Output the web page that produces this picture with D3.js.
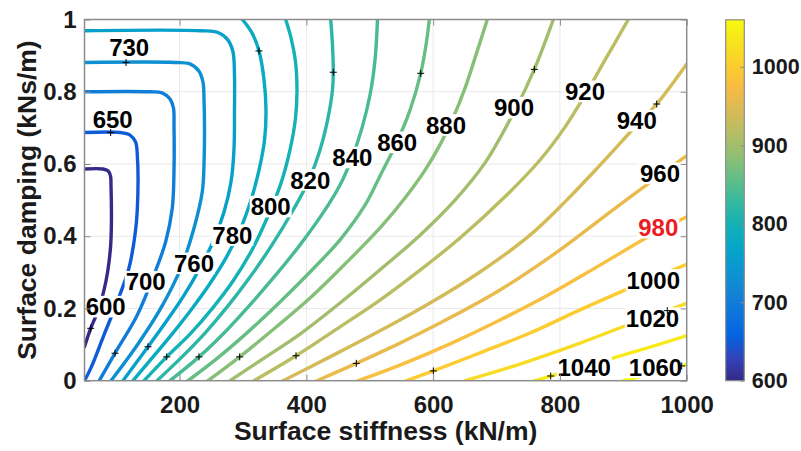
<!DOCTYPE html>
<html>

<head>
    <meta charset="utf-8">
    <script src="https://d3js.org/d3.v7.min.js"></script>
    <style>
        body { margin: 0; background: white; }
    </style>
</head>

<body>
    <script>
        const width = 801
        const height = 451
        const plotLeft = 84.5, plotRight = 686.7, plotTop = 19.5, plotBottom = 380.7
        const barLeft = 725.7, barRight = 744.3, barTop = 19.8, barBottom = 380.7

        const fontFamily = "'Liberation Sans', Arial, sans-serif"
        const axisColor = "#8c8c8c"
        const textColor = "#1a1a1a"

        // contour levels (kN/m vs kNs/m map)
        const levels = [600, 650, 700, 730, 760, 780, 800, 820, 840, 860, 880, 900, 920, 940, 960, 980, 1000, 1020, 1040, 1060]

        // one polyline per level, [stiffness, damping]
        const contourLines = [
            [[50, 0.586], [79, 0.586], [87, 0.581], [91, 0.567], [91.8, 0.542], [91.8, 0.39], [88.7, 0.329], [83.9, 0.276], [72.9, 0.201], [59.8, 0.145], [50, 0.094]],
            [[50, 0.687], [106, 0.687], [121.8, 0.68], [130.5, 0.661], [133.3, 0.625], [133.3, 0.473], [129.6, 0.403], [120.2, 0.312], [101.7, 0.219], [80.8, 0.127], [59.8, 0.034], [50, 0]],
            [[50, 0.8], [153.3, 0.8], [172.3, 0.797], [184.9, 0.78], [190.4, 0.755], [191.2, 0.708], [191.2, 0.583], [188.5, 0.478], [178.1, 0.385], [159.6, 0.293], [133.3, 0.182], [98.1, 0.076], [73.3, 0]],
            [[50, 0.881], [192.8, 0.881], [216.4, 0.877], [230.6, 0.857], [236.9, 0.827], [238.5, 0.783], [238.5, 0.597], [235.8, 0.523], [222.7, 0.422], [201.8, 0.311], [170.2, 0.2], [133.3, 0.099], [91.8, 0]],
            [[50, 0.969], [232.2, 0.969], [260.6, 0.964], [276.4, 0.943], [284.3, 0.91], [286.6, 0.846], [286.6, 0.749], [285.8, 0.639], [281.1, 0.55], [270.1, 0.467], [252.7, 0.384], [230.6, 0.307], [205.4, 0.232], [178.6, 0.163], [150.2, 0.094], [110.7, 0]],
            [[126.5, 0], [158.1, 0.066], [188, 0.129], [218, 0.196], [246.4, 0.265], [273.2, 0.34], [295.3, 0.417], [312.7, 0.5], [325.3, 0.583], [334, 0.666], [336.3, 0.749], [333.2, 0.833], [325.3, 0.913], [314.2, 0.963], [299, 1]],
            [[143.9, 0], [179.7, 0.066], [216.4, 0.129], [251.1, 0.199], [284.3, 0.276], [314.2, 0.362], [339.5, 0.456], [360, 0.547], [374.2, 0.639], [382.9, 0.727], [385.2, 0.805], [382.9, 0.882], [375.8, 0.949], [367.4, 1]],
            [[164.4, 0], [203.8, 0.066], [240.1, 0.132], [276.4, 0.207], [311.1, 0.287], [345.8, 0.376], [377.4, 0.467], [402.6, 0.55], [421.5, 0.639], [434.1, 0.727], [441.2, 0.805], [442.5, 0.854], [441.2, 0.929], [438.4, 1]],
            [[184.9, 0], [230.6, 0.066], [271.7, 0.135], [311.1, 0.21], [350.5, 0.29], [390, 0.376], [429.4, 0.473], [453.1, 0.542], [472, 0.617], [487.8, 0.7], [500.4, 0.791], [508.3, 0.888], [512.2, 1]],
            [[213.3, 0], [262.2, 0.066], [311.1, 0.14], [358.4, 0.218], [405.8, 0.301], [453.1, 0.39], [492.5, 0.486], [516.2, 0.567], [543, 0.661], [563.5, 0.749], [580.4, 0.851], [588.7, 0.929], [594, 1]],
            [[244.8, 0], [294.8, 0.066], [350.5, 0.146], [405.8, 0.229], [460.9, 0.323], [516.2, 0.423], [555.6, 0.506], [587.2, 0.583], [610.8, 0.653], [631.3, 0.727], [650.3, 0.81], [667.6, 0.902], [685.5, 1]],
            [[279.5, 0], [336.3, 0.066], [390, 0.129], [453.1, 0.215], [516.2, 0.307], [579.3, 0.403], [634.5, 0.5], [681.8, 0.603], [727.6, 0.744], [759.6, 0.862], [789.6, 1]],
            [[317.4, 0], [383.7, 0.069], [453.1, 0.149], [516.2, 0.223], [579.3, 0.306], [642.4, 0.395], [716.1, 0.514], [768.6, 0.611], [808, 0.702], [839.6, 0.791], [871.2, 0.888], [907.9, 1]],
            [[363.1, 0], [437.3, 0.066], [516.2, 0.138], [595.1, 0.215], [673.9, 0.301], [752.8, 0.403], [810.7, 0.5], [863.3, 0.597], [921.2, 0.708], [952.7, 0.766], [1000, 0.877]],
            [[416.8, 0], [478.8, 0.048], [547.7, 0.104], [626.6, 0.174], [705.5, 0.251], [800.1, 0.362], [879, 0.467], [957.9, 0.569], [1000, 0.623]],
            [[481.9, 0], [547.7, 0.043], [626.6, 0.102], [705.5, 0.168], [784.4, 0.24], [863.3, 0.32], [942.1, 0.401], [1000, 0.454]],
            [[558.3, 0], [600.3, 0.027], [673.9, 0.077], [752.8, 0.132], [831.7, 0.196], [910.6, 0.257], [1000, 0.322]],
            [[650.3, 0], [737, 0.046], [831.7, 0.104], [910.6, 0.157], [969.4, 0.194], [1000, 0.214]],
            [[760.7, 0], [785.5, 0.013], [863.3, 0.052], [942.1, 0.093], [1000, 0.125]],
            [[899.5, 0], [950, 0.021], [1000, 0.045]]
        ]

        // "+" markers left by clabel, one per level (none visible on 980)
        const markerPoints = [
            [59.8, 0.145], [91.3, 0.687], [98.1, 0.076], [115.5, 0.881], [150.2, 0.094], [325.3, 0.913], [179.7, 0.066],
            [442.5, 0.854], [230.6, 0.066], [580.4, 0.851], [294.8, 0.066], [759.6, 0.862], [383.7, 0.069], [952.7, 0.766],
            [478.8, 0.048], null, [600.3, 0.027], [969.4, 0.194], [785.5, 0.013], [992.1, 0.041]
        ]

        // label centres, one per level
        const labelPoints = [
            [83.4, 0.205], [94.5, 0.724], [146.5, 0.274], [120.5, 0.922], [222.7, 0.325], [283.2, 0.403], [343.7, 0.482],
            [406.2, 0.556], [472.5, 0.618], [543.3, 0.66], [620.3, 0.708], [727.6, 0.756], [839.6, 0.801], [921.2, 0.72],
            [957.9, 0.574], [955.2, 0.424], [947.3, 0.279], [946.1, 0.173], [838.3, 0.037], [950.8, 0.037]
        ]
        const highlightLevel = 980

        const xTicks = [200, 400, 600, 800, 1000]
        const yTicks = [0, 0.2, 0.4, 0.6, 0.8, 1]
        const colorTicks = [600, 700, 800, 900, 1000]

        // parula colormap (every 4th entry of the 64-colour table)
        const parula = ["#352a87", "#3243ba", "#0363e1", "#0d75dc", "#1485d4", "#0998d1", "#06a7c6", "#15b1b4",
            "#38b99e", "#65be86", "#92bf73", "#b7bd64", "#d9ba56", "#f8bb44", "#fcce2e", "#f5e41d", "#f9fb0e"]
        const colorMin = 600, colorMax = 1060

        const x = d3.scaleLinear().domain([50, 1000]).range([plotLeft, plotRight])
        const y = d3.scaleLinear().domain([0, 1]).range([plotBottom, plotTop])
        const cbar = d3.scaleLinear().domain([colorMin, colorMax]).range([barBottom, barTop])
        const color = d3.scaleLinear()
            .domain(parula.map((d, i) => colorMin + (colorMax - colorMin) * i / (parula.length - 1)))
            .range(parula)

        function styleAxis(g, size) {
            g.select(".domain").remove()
            g.selectAll(".tick line").attr("stroke", axisColor).attr("stroke-width", 1)
            g.selectAll(".tick text")
                .style("font-family", fontFamily)
                .style("font-weight", "bold")
                .style("font-size", size + "px")
                .style("fill", textColor)
        }

        function drawGrid(svg) {
            const grid = svg.append("g")
            grid.selectAll(".gx").data(xTicks.slice(0, -1)).enter().append("line")
                .attr("x1", d => x(d)).attr("x2", d => x(d))
                .attr("y1", plotTop).attr("y2", plotBottom)
                .attr("stroke", "#e8e8e8").attr("stroke-width", 1)
            grid.selectAll(".gy").data(yTicks.slice(1, -1)).enter().append("line")
                .attr("x1", plotLeft).attr("x2", plotRight)
                .attr("y1", d => y(d)).attr("y2", d => y(d))
                .attr("stroke", "#e8e8e8").attr("stroke-width", 1)
        }

        function drawContours(svg) {
            svg.append("clipPath").attr("id", "plotClip").append("rect")
                .attr("x", plotLeft).attr("y", plotTop)
                .attr("width", plotRight - plotLeft).attr("height", plotBottom - plotTop)

            const line = d3.line()
                .x(d => x(d[0])).y(d => y(d[1]))
                .curve(d3.curveCatmullRom.alpha(0.5))

            svg.append("g").attr("clip-path", "url(#plotClip)")
                .selectAll("path").data(levels).enter().append("path")
                .attr("d", (d, i) => line(contourLines[i]))
                .attr("fill", "none")
                .attr("stroke", d => color(d))
                .attr("stroke-width", 3.4)
                .attr("stroke-linecap", "round")
        }

        function drawLabels(svg) {
            const fs = 24
            const groups = svg.append("g").selectAll("g").data(levels).enter().append("g")
            groups.append("text")
                .text(d => d)
                .attr("x", (d, i) => x(labelPoints[i][0]))
                .attr("y", (d, i) => y(labelPoints[i][1]) + fs * 0.36)
                .attr("text-anchor", "middle")
                .style("font-family", fontFamily)
                .style("font-weight", "bold")
                .style("font-size", fs + "px")
                .style("fill", d => d === highlightLevel ? "#ec1c24" : "#000")
            // white background box like the matlab text objects
            groups.each(function (d, i) {
                const g = d3.select(this)
                const b = g.select("text").node().getBBox()
                const cy = y(labelPoints[i][1])
                g.insert("rect", "text")
                    .attr("x", b.x - 1).attr("width", b.width + 2)
                    .attr("y", cy - fs * 0.45).attr("height", fs * 0.9)
                    .attr("fill", "white")
            })
        }

        function drawMarkers(svg) {
            const pts = markerPoints.filter(p => p)
            const g = svg.append("g").attr("stroke", "#000").attr("stroke-width", 1)
            g.selectAll(".mh").data(pts).enter().append("line")
                .attr("x1", d => x(d[0]) - 3.5).attr("x2", d => x(d[0]) + 3.5)
                .attr("y1", d => y(d[1])).attr("y2", d => y(d[1]))
            g.selectAll(".mv").data(pts).enter().append("line")
                .attr("x1", d => x(d[0])).attr("x2", d => x(d[0]))
                .attr("y1", d => y(d[1]) - 3.5).attr("y2", d => y(d[1]) + 3.5)
        }

        function drawAxes(svg) {
            const tick = 6
            svg.append("g").attr("transform", `translate(0,${plotBottom})`)
                .call(d3.axisBottom(x).tickValues(xTicks).tickSize(-tick).tickPadding(15).tickFormat(d => d))
                .call(g => styleAxis(g, 24))
            svg.append("g").attr("transform", `translate(0,${plotTop})`)
                .call(d3.axisTop(x).tickValues(xTicks).tickSize(-tick).tickFormat(""))
                .call(g => styleAxis(g, 24))
            svg.append("g").attr("transform", `translate(${plotLeft},0)`)
                .call(d3.axisLeft(y).tickValues(yTicks).tickSize(-tick).tickPadding(8).tickFormat(d => d))
                .call(g => styleAxis(g, 24))
            svg.append("g").attr("transform", `translate(${plotRight},0)`)
                .call(d3.axisRight(y).tickValues(yTicks).tickSize(-tick).tickFormat(""))
                .call(g => styleAxis(g, 24))

            svg.append("rect")
                .attr("x", plotLeft).attr("y", plotTop)
                .attr("width", plotRight - plotLeft).attr("height", plotBottom - plotTop)
                .attr("fill", "none").attr("stroke", axisColor).attr("stroke-width", 1.5)

            svg.append("text")
                .text("Surface stiffness (kN/m)")
                .attr("x", (plotLeft + plotRight) / 2).attr("y", 440)
                .attr("text-anchor", "middle")
                .style("font-family", fontFamily).style("font-weight", "bold")
                .style("font-size", "26.5px").style("fill", textColor)
            svg.append("text")
                .text("Surface damping (kNs/m)")
                .attr("transform", `translate(36,${(plotTop + plotBottom) / 2}) rotate(-90)`)
                .attr("text-anchor", "middle")
                .style("font-family", fontFamily).style("font-weight", "bold")
                .style("font-size", "26.5px").style("fill", textColor)
        }

        function drawColorbar(svg) {
            const grad = svg.append("defs").append("linearGradient")
                .attr("id", "parulaGrad").attr("x1", 0).attr("y1", 1).attr("x2", 0).attr("y2", 0)
            grad.selectAll("stop").data(parula).enter().append("stop")
                .attr("offset", (d, i) => i / (parula.length - 1))
                .attr("stop-color", d => d)
            svg.append("rect")
                .attr("x", barLeft).attr("y", barTop)
                .attr("width", barRight - barLeft).attr("height", barBottom - barTop)
                .attr("fill", "url(#parulaGrad)")
                .attr("stroke", axisColor).attr("stroke-width", 1.2)
            svg.append("g").attr("transform", `translate(${barRight},0)`)
                .call(d3.axisRight(cbar).tickValues(colorTicks).tickSize(-4).tickPadding(7.5).tickFormat(d => d))
                .call(g => styleAxis(g, 21.5))
        }

        function draw() {
            const svg = d3.select("body").append("svg").attr("width", width).attr("height", height)
            svg.append("rect").attr("width", width).attr("height", height).attr("fill", "white")
            drawGrid(svg)
            drawContours(svg)
            drawLabels(svg)
            drawMarkers(svg)
            drawAxes(svg)
            drawColorbar(svg)
        }

        draw()
    </script>
</body>

</html>
